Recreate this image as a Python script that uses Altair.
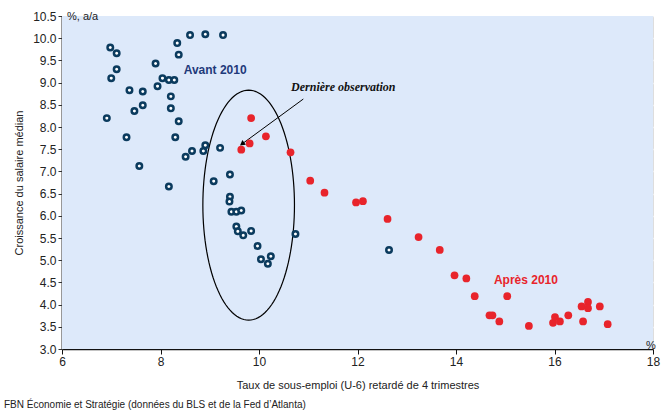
import altair as alt
import pandas as pd
import numpy as np

# Avant 2010 (hollow navy circles)
blue_x = [6.98, 7.11, 7.90, 8.34, 8.37, 8.60, 8.91, 9.27, 7.11, 7.00, 8.04, 8.17, 8.28,
          7.94, 7.37, 7.64, 8.21, 7.64, 7.47, 8.21, 6.91, 8.37, 7.31, 8.30, 8.91, 9.21,
          8.64, 8.87, 8.51, 7.57, 9.41, 9.08, 8.17, 9.41, 9.40, 9.44, 9.54, 9.64, 9.54,
          9.57, 9.68, 9.84, 10.74, 9.97, 10.04, 10.24, 10.18, 12.64]
blue_y = [9.79, 9.66, 9.43, 9.89, 9.63, 10.07, 10.09, 10.07, 9.30, 9.10, 9.10, 9.06, 9.06,
          8.92, 8.83, 8.80, 8.69, 8.49, 8.36, 8.42, 8.20, 8.13, 7.77, 7.77, 7.59, 7.53,
          7.46, 7.46, 7.33, 7.12, 6.93, 6.78, 6.66, 6.43, 6.32, 6.09, 6.09, 6.12, 5.76,
          5.65, 5.56, 5.66, 5.59, 5.32, 5.02, 5.09, 4.92, 5.23]

# Après 2010 (filled red)
red_x = [9.84, 10.14, 9.81, 9.64, 10.64, 11.04, 11.33, 11.97, 12.11, 12.61, 13.24, 13.67,
         13.97, 14.21, 14.38, 15.04, 14.68, 14.74, 14.88, 15.48, 15.97, 16.01, 16.11, 16.28,
         16.55, 16.68, 16.68, 16.92, 16.58, 17.08]
red_y = [8.20, 7.79, 7.63, 7.49, 7.43, 6.79, 6.52, 6.30, 6.33, 5.93, 5.52, 5.23,
         4.66, 4.59, 4.19, 4.19, 3.76, 3.76, 3.62, 3.52, 3.59, 3.72, 3.62, 3.76,
         3.96, 4.06, 3.92, 3.96, 3.62, 3.56]

x_ticks = [6, 8, 10, 12, 14, 16, 18]
y_ticks = [3.0, 3.5, 4.0, 4.5, 5.0, 5.5, 6.0, 6.5, 7.0, 7.5, 8.0, 8.5, 9.0, 9.5, 10.0, 10.5]

# annotation geometry (data units)
ell_cx, ell_cy, ell_rx, ell_ry = 9.79, 6.24, 0.93, 2.59
arrow_x = [10.90, 9.67]
arrow_y = [8.63, 7.63]
labels = pd.DataFrame({
    "x": [9.11, 15.42],
    "y": [9.28, 4.55],
    "t": ["Avant 2010", "Après 2010"],
    "c": ["#1f3a7a", "#e8242b"],
})
note = pd.DataFrame({"x": [11.71], "y": [8.90], "t": ["Dernière observation"]})

xs = alt.Scale(domain=[6, 18], nice=False, zero=False)
ys = alt.Scale(domain=[3, 10.5], nice=False, zero=False)

X = alt.X("x:Q", scale=xs, axis=alt.Axis(
    values=x_ticks, grid=False, title="Taux de sous-emploi (U-6) retardé de 4 trimestres",
    titleFontSize=11, titleFontWeight="normal", titleColor="#222", titlePadding=12,
    labelFontSize=12, labelColor="#222", domainColor="#111", domainWidth=1.5,
    tickColor="#111", tickSize=5, labelPadding=2, labelFlush=False, labelOverlap=False))
Y = alt.Y("y:Q", scale=ys, axis=alt.Axis(
    values=y_ticks, format=".1f", grid=True, gridColor="white", gridWidth=1.5,
    title="Croissance du salaire médian", titleFontSize=11, titleFontWeight="normal",
    titleColor="#222", titlePadding=8, labelFontSize=12, labelColor="#222",
    domainColor="#333", domainWidth=2, tickColor="#333", tickSize=4, labelPadding=2,
    labelFlush=False, labelOverlap=False))

bg = alt.Chart(pd.DataFrame({"a": [0]})).mark_rect(color="#dde9fa").encode(
    x=alt.value(0), x2=alt.value(591), y=alt.value(0), y2=alt.value(333))

axes = alt.Chart(pd.DataFrame({"x": [6.0], "y": [3.0]})).mark_point(opacity=0).encode(x=X, y=Y)

blue = alt.Chart(pd.DataFrame({"x": blue_x, "y": blue_y})).mark_point(
    shape="circle", filled=True, fill="white", fillOpacity=1, stroke="#0b3b5e",
    strokeWidth=2.5, size=30, opacity=1).encode(x=X, y=Y)

red = alt.Chart(pd.DataFrame({"x": red_x, "y": red_y})).mark_circle(
    color="#e8242b", size=60, opacity=1).encode(x=X, y=Y)

theta = np.linspace(0, 2 * np.pi, 121)
ell = pd.DataFrame({"x": ell_cx + ell_rx * np.cos(theta),
                    "y": ell_cy + ell_ry * np.sin(theta),
                    "o": np.arange(len(theta))})
ellipse = alt.Chart(ell).mark_line(color="black", strokeWidth=1.2).encode(
    x=X, y=Y, order="o:Q")

arrow_line = alt.Chart(pd.DataFrame({"x": [arrow_x[0]], "y": [arrow_y[0]],
                                     "x2": [arrow_x[1]], "y2": [arrow_y[1]]})).mark_rule(
    color="black", strokeWidth=1).encode(x=X, y=Y, x2="x2:Q", y2="y2:Q")
arrow_head = alt.Chart(pd.DataFrame({"x": [arrow_x[1]], "y": [arrow_y[1]]})).mark_point(
    shape="triangle", filled=True, color="black", size=35, angle=234, opacity=1).encode(x=X, y=Y)

lab = alt.Chart(labels).mark_text(fontSize=12, fontWeight="bold", font="Liberation Sans").encode(
    x=X, y=Y, text="t:N", color=alt.Color("c:N", scale=None))
nt = alt.Chart(note).mark_text(fontSize=12, fontWeight="bold", fontStyle="italic",
                               font="Liberation Serif", color="#111").encode(x=X, y=Y, text="t:N")

extra = pd.DataFrame({"t": ["%, a/a"]})
unit_y = alt.Chart(extra).mark_text(fontSize=11, align="left", baseline="middle",
                                    color="#222").encode(x=alt.value(5), y=alt.value(1), text="t:N")
unit_x = alt.Chart(pd.DataFrame({"t": ["%"]})).mark_text(fontSize=11, align="center", baseline="bottom",
                                   color="#222").encode(x=alt.value(589), y=alt.value(335), text="t:N")
footer = alt.Chart(pd.DataFrame({"t": ["FBN Économie et Stratégie (données du BLS et de la Fed d\u2019Atlanta)"]})).mark_text(
    fontSize=10, align="left", baseline="middle", color="#222").encode(
    x=alt.value(-58), y=alt.value(389), text="t:N")

chart = alt.layer(bg, axes, ellipse, arrow_line, arrow_head, blue, red, lab, nt,
                  unit_y, unit_x, footer).properties(
    width=591, height=333,
    autosize=alt.AutoSizeParams(type="none"),
    padding={"left": 62, "top": 16, "right": 17, "bottom": 64},
).configure_view(stroke=None).configure(font="Liberation Sans")

chart.save("out.html", embed_options={"renderer": "svg", "actions": False})
